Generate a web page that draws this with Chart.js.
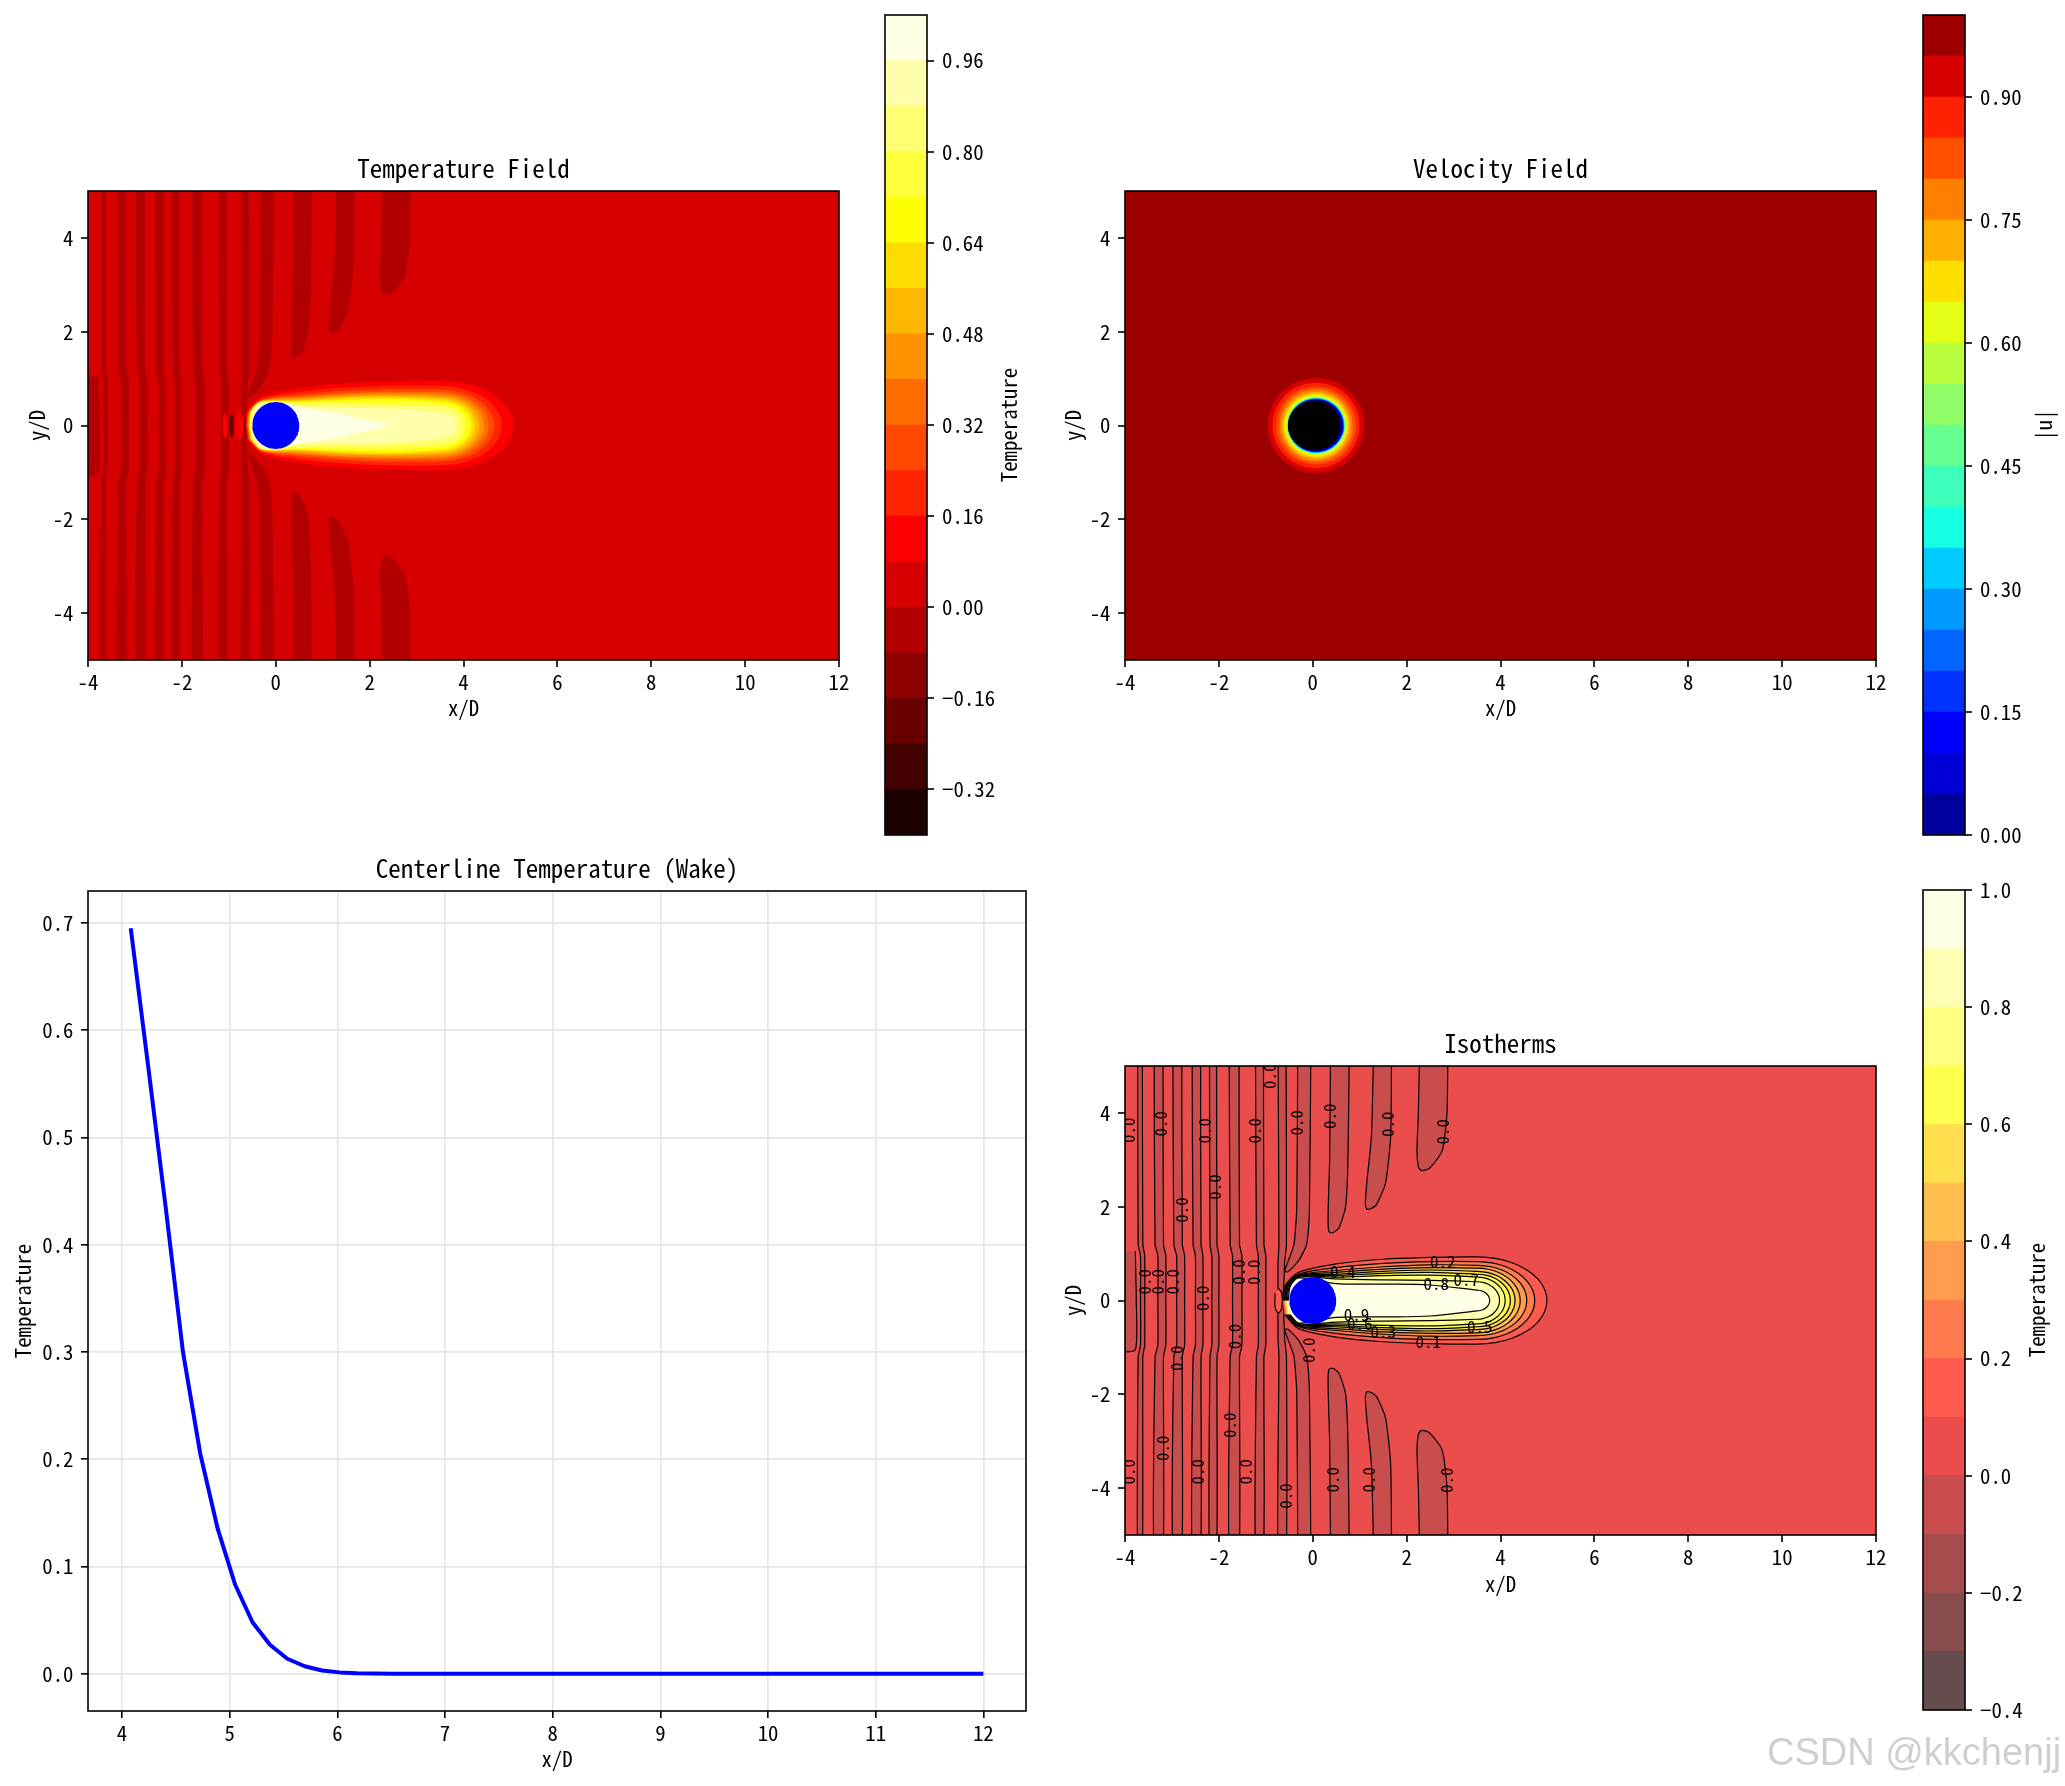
<!DOCTYPE html>
<html><head><meta charset="utf-8">
<script src="https://cdn.jsdelivr.net/npm/chart.js@4.4.1/dist/chart.umd.min.js"></script>
<style>
html,body{margin:0;padding:0;background:#fff}
body{width:2065px;height:1786px;position:relative;overflow:hidden}
canvas{position:absolute}
#wm{position:absolute;left:1767px;top:1733px;font:38px "Liberation Sans",Arial,sans-serif;color:#cfcfcf;white-space:nowrap;line-height:38px}
</style></head><body>
<canvas id="cT"></canvas><canvas id="cV"></canvas><canvas id="cL"></canvas><canvas id="cI"></canvas>
<canvas id="bT"></canvas><canvas id="bV"></canvas><canvas id="bI"></canvas>
<div id="wm">CSDN @kkchenjj</div>
<script>
// ================= DATA =================
const fieldXTicks = [-4,-2,0,2,4,6,8,10,12];
const fieldXLabels = ['-4','-2','0','2','4','6','8','10','12'];
const fieldYTicks = [-4,-2,0,2,4];
const fieldYLabels = ['-4','-2','0','2','4'];

const tempLevels = [-0.40,-0.32,-0.24,-0.16,-0.08,0.00,0.08,0.16,0.24,0.32,0.40,0.48,0.56,0.64,0.72,0.80,0.88,0.96,1.04];
const tempCbTicks = [-0.32,-0.16,0.00,0.16,0.32,0.48,0.64,0.80,0.96];
const tempCbLabels = ['−0.32','−0.16','0.00','0.16','0.32','0.48','0.64','0.80','0.96'];

const velLevels = [0.00,0.05,0.10,0.15,0.20,0.25,0.30,0.35,0.40,0.45,0.50,0.55,0.60,0.65,0.70,0.75,0.80,0.85,0.90,0.95,1.00];
const velCbTicks = [0.00,0.15,0.30,0.45,0.60,0.75,0.90];
const velCbLabels = ['0.00','0.15','0.30','0.45','0.60','0.75','0.90'];

const isoLevels = [-0.4,-0.3,-0.2,-0.1,0.0,0.1,0.2,0.3,0.4,0.5,0.6,0.7,0.8,0.9,1.0];
const isoCbTicks = [-0.4,-0.2,0.0,0.2,0.4,0.6,0.8,1.0];
const isoCbLabels = ['−0.4','−0.2','0.0','0.2','0.4','0.6','0.8','1.0'];

// centreline temperature in the wake
const wakeX = [4.081,4.242,4.404,4.566,4.727,4.889,5.051,5.212,5.374,5.535,5.697,5.859,6.020,6.182,6.343,6.505,6.667,6.828,6.990,7.152,7.313,7.475,7.636,7.798,7.960,8.121,8.283,8.444,8.606,8.768,8.929,9.091,9.253,9.414,9.576,9.737,9.899,10.061,10.222,10.384,10.545,10.707,10.869,11.030,11.192,11.354,11.515,11.677,11.838,12.000];
const wakeT = [0.695,0.567,0.436,0.300,0.205,0.135,0.083,0.048,0.027,0.014,0.007,0.003,0.0013,0.0005,0.0002,0.0001,0,0,0,0,0,0,0,0,0,0,0,0,0,0,0,0,0,0,0,0,0,0,0,0,0,0,0,0,0,0,0,0,0,0];
const wakeXTicks = [4,5,6,7,8,9,10,11,12];
const wakeXLabels = ['4','5','6','7','8','9','10','11','12'];
const wakeYTicks = [0,0.1,0.2,0.3,0.4,0.5,0.6,0.7];
const wakeYLabels = ['0.0','0.1','0.2','0.3','0.4','0.5','0.6','0.7'];

const cylinder = [0, 0, 0.5]; // centre x, centre y, radius

// heated plume contours: [level, front x, half-width at x=-0.3, 0.5, 1.5, 2.5, 3.5, downstream end x]
const plumeTemp = [
 [0.08,-0.65,0.62,0.80,0.90,0.94,0.96,5.07],
 [0.16,-0.63,0.57,0.72,0.81,0.85,0.85,4.82],
 [0.24,-0.61,0.55,0.66,0.74,0.78,0.77,4.66],
 [0.32,-0.60,0.54,0.62,0.69,0.72,0.71,4.54],
 [0.40,-0.59,0.53,0.59,0.66,0.68,0.66,4.44],
 [0.48,-0.58,0.52,0.56,0.62,0.64,0.61,4.34],
 [0.56,-0.57,0.51,0.53,0.59,0.61,0.57,4.25],
 [0.64,-0.56,0.50,0.51,0.55,0.57,0.52,4.17],
 [0.72,-0.55,0.50,0.49,0.51,0.52,0.47,4.08],
 [0.80,-0.54,0.50,0.46,0.45,0.44,0.40,3.98],
 [0.88,-0.52,0.48,0.40,0.38,0.36,0.27,3.85]
];
const plumeTempCore = [[-0.2,0],[0.0,0.47],[0.6,0.38],[1.2,0.28],[1.8,0.15],[2.4,0]];
const plumeIso = [
 [0.1,-0.64,0.60,0.78,0.88,0.92,0.93,4.99],
 [0.2,-0.62,0.56,0.70,0.79,0.83,0.83,4.73],
 [0.3,-0.60,0.54,0.64,0.72,0.76,0.75,4.56],
 [0.4,-0.59,0.53,0.60,0.67,0.70,0.69,4.42],
 [0.5,-0.58,0.52,0.56,0.62,0.65,0.62,4.31],
 [0.6,-0.57,0.51,0.53,0.58,0.60,0.56,4.21],
 [0.7,-0.56,0.50,0.50,0.53,0.54,0.50,4.10],
 [0.8,-0.54,0.50,0.46,0.44,0.43,0.40,3.98],
 [0.9,-0.52,0.48,0.36,0.35,0.33,0.22,3.77]
];

// cold (T<0) stripes upstream; rows [y, x left, x right] from the top edge down to y=0 (mirror-symmetric)
const coldFull = [
 [[5.5,-3.73,-3.63],[1.2,-3.72,-3.62],[0.95,-3.67,-3.58],[0,-3.67,-3.58]],
 [[5.5,-3.38,-3.19],[1.2,-3.36,-3.18],[0.95,-3.30,-3.13],[0,-3.30,-3.13]],
 [[5.5,-2.98,-2.79],[1.2,-2.96,-2.78],[0.95,-2.90,-2.73],[0,-2.90,-2.73]],
 [[5.5,-2.57,-2.39],[1.2,-2.55,-2.38],[0.95,-2.50,-2.34],[0,-2.50,-2.34]],
 [[5.5,-2.20,-2.05],[1.2,-2.19,-2.04],[0.95,-2.15,-2.00],[0,-2.15,-2.00]],
 [[5.5,-1.78,-1.57],[1.2,-1.76,-1.56],[0.95,-1.71,-1.51],[0,-1.71,-1.51]],
 [[5.5,-1.22,-1.05],[1.2,-1.20,-1.04],[0.95,-1.16,-1.00],[0,-1.16,-1.00]],
 [[5.5,-0.74,-0.57],[1.2,-0.72,-0.56],[0.8,-0.74,-0.60],[0,-0.74,-0.62]]
];
const coldBlock = [[1.05,-4.2,-3.78],[0,-4.2,-3.76]];
// stripes that exist only away from the centreline (rows from the top edge downwards)
const coldTop = [
 [[5.5,-0.32,-0.04],[2.0,-0.34,-0.07],[1.2,-0.40,-0.13],[0.85,-0.52,-0.30],[0.62,-0.60,-0.52]],
 [[5.5,0.38,0.78],[3.0,0.36,0.75],[2.0,0.33,0.70],[1.55,0.33,0.56],[1.45,0.36,0.44]],
 [[5.5,1.30,1.68],[3.5,1.25,1.66],[2.5,1.15,1.55],[2.05,1.12,1.36],[1.95,1.15,1.22]],
 [[5.5,2.28,2.88],[4.0,2.25,2.86],[3.2,2.22,2.76],[2.85,2.25,2.52],[2.78,2.30,2.40]]
];
// small marks in front of the cylinder: [band index, x left, x right, half height]
const frontTemp = [[6,-1.12,-1.04,0.28],[2,-0.98,-0.90,0.26],[6,-0.85,-0.70,0.30],[1,-0.66,-0.58,0.25]];
const frontIso = [[5,-0.80,-0.66,0.26]];

// velocity magnitude rings around the cylinder: [level, x radius, y radius]
const velRingCenter = 0.07;
const velRings = [
 [0.95,1.03,1.01],[0.90,0.93,0.91],[0.85,0.85,0.83],[0.80,0.78,0.77],[0.75,0.73,0.72],
 [0.70,0.69,0.675],[0.65,0.655,0.64],[0.60,0.63,0.615],[0.55,0.62,0.60],[0.50,0.615,0.595],
 [0.45,0.61,0.59],[0.40,0.605,0.585],[0.35,0.60,0.58],[0.30,0.595,0.575],[0.25,0.59,0.57],
 [0.20,0.585,0.565],[0.15,0.58,0.56],[0.10,0.575,0.555],[0.05,0.57,0.55]
];
const velCore = [0.03,0.0,0.56,0.53];

// isotherm contour labels [text, x, y]
const isoLabels = [['0.2',2.77,0.83],['0.4',0.64,0.61],['0.8',2.63,0.36],['0.7',3.27,0.44],['0.9',0.93,-0.31],
 ['0.6',1.0,-0.5],['0.3',1.5,-0.67],['0.5',3.56,-0.56],['0.1',2.46,-0.88]];
const isoZeroLabels = [[-3.93,3.63],[-3.25,3.77],[-2.30,3.62],[-1.24,3.62],[-0.92,4.78],[-0.35,3.79],[0.35,3.93],
 [1.59,3.76],[2.77,3.60],[-2.09,2.42],[-2.80,1.93],[-3.58,0.40],[-3.31,0.40],[-2.99,0.40],[-2.35,0.05],
 [-3.93,-3.65],[-3.21,-3.15],[-2.45,-3.65],[-1.77,-2.66],[-1.43,-3.65],[-0.58,-4.17],[0.42,-3.82],[1.18,-3.82],
 [2.85,-3.83],[-1.66,-0.77],[-2.90,-1.23],[-0.10,-1.06],[-1.58,0.61],[-1.26,0.60]];

// ================= helpers =================
function pickFont(){
  const c = document.createElement('canvas').getContext('2d');
  const s = '0.123456789 Temperature Wake';
  const cands = ['Noto Sans Mono CJK SC','Noto Sans Mono CJK JP','DejaVu Sans Mono','Liberation Mono'];
  for (const f of cands){
    c.font = `50px "${f}", monospace`; const w1 = c.measureText(s).width;
    c.font = `50px "${f}", serif`; const w2 = c.measureText(s).width;
    if (Math.abs(w1-w2) < 0.01){
      c.font = `100px "${f}"`; const cw = c.measureText('0000000000').width/10;
      return {family:`"${f}", monospace`, k: 50/cw};
    }
  }
  return {family:'monospace', k:0.83};
}
const FNT = pickFont(); const FF = FNT.family, FK = FNT.k;
const fs = px => px*FK;

function seg(s,x){ for (let i=1;i<s.length;i++){ if (x<=s[i][0]){ const [x0,y0]=s[i-1],[x1,y1]=s[i]; return y0+(y1-y0)*(x-x0)/(x1-x0);} } return s[s.length-1][1]; }
const HOT = {r:[[0,0.0416],[0.365079,1],[1,1]], g:[[0,0],[0.365079,0],[0.746032,1],[1,1]], b:[[0,0],[0.746032,0],[1,1]]};
const JET = {r:[[0,0],[0.35,0],[0.66,1],[0.89,1],[1,0.5]], g:[[0,0],[0.125,0],[0.375,1],[0.64,1],[0.91,0],[1,0]], b:[[0,0.5],[0.11,1],[0.34,1],[0.65,0],[1,0]]};
function cmap(m,x,alpha){ const f=c=>Math.round(255*(alpha*c+(1-alpha))); return `rgb(${f(seg(m.r,x))},${f(seg(m.g,x))},${f(seg(m.b,x))})`; }
function bandColors(levels,m,alpha){ const n=levels.length-1; const out=[]; for(let i=0;i<n;i++) out.push(cmap(m,(i+0.5)/n,alpha)); return out; }
const tempColors = bandColors(tempLevels,HOT,1);
const velColors = bandColors(velLevels,JET,1);
const isoColors = bandColors(isoLevels,HOT,0.7);

function stripeFull(rows){
  const a = rows.map(r=>[r[1],r[0]]);
  const b = rows.slice(0,-1).reverse().map(r=>[r[1],-r[0]]);
  const c = rows.slice(0,-1).map(r=>[r[2],-r[0]]);
  const d = rows.slice().reverse().map(r=>[r[2],r[0]]);
  return a.concat(b,c,d);
}
function stripeHalf(rows,s){ return rows.map(r=>[r[1],s*r[0]]).concat(rows.slice().reverse().map(r=>[r[2],s*r[0]])); }
function plumePoly(row){
  const [lv,f,a,b,c,d,e,xR] = row;
  const top = [[f,0],[f+0.04,0.3],[-0.3,a],[0.5,b],[1.5,c],[2.5,d],[3.5,e]];
  const rx = xR-3.5;
  for (let k=1;k<=6;k++){ const t=k/6*Math.PI/2; top.push([3.5+rx*Math.sin(t), e*Math.cos(t)]); }
  return top.concat(top.slice(1,-1).reverse().map(p=>[p[0],-p[1]]));
}
function corePoly(rows){ return rows.map(p=>[p[0],p[1]]).concat(rows.slice(1,-1).reverse().map(p=>[p[0],-p[1]])); }
function markPoly(m){ const [b,xl,xr,yt]=m; const c=(xl+xr)/2; return [[c,yt],[xr,yt*0.6],[xr,-yt*0.6],[c,-yt],[xl,-yt*0.6],[xl,yt*0.6]]; }
function ellipse(cx,cy,rx,ry){ const p=[]; const n=72; for(let k=0;k<n;k++){ const t=2*Math.PI*k/n; p.push([cx+rx*Math.cos(t), cy+ry*Math.sin(t)]); } return p; }

function poly(pts,color,o){
  o = o || {};
  return {data: pts.map(p=>({x:p[0],y:p[1]})), showLine:true, fill:'shape', backgroundColor:color,
    borderColor: o.line || 'rgba(0,0,0,0)', borderWidth: o.lw || 1, pointRadius:0, pointHoverRadius:0, pointHitRadius:0,
    tension: o.t || 0, capBezierPoints:false, borderJoinStyle:'round'};
}
function ordered(sets){ sets.forEach((s,i)=>{ s.order = sets.length - i; }); return sets; }

function tempField(levels, colors, plume, core, front, withLines){
  const band = L => levels.findIndex(v=>Math.abs(v-L)<1e-9);
  const bg = band(0), cold = bg-1;
  const lo = withLines ? {line:'#000', lw:1.2} : {};
  const sets = [poly([[-5,-6],[13,-6],[13,6],[-5,6]], colors[bg])];
  coldFull.forEach(r=>sets.push(poly(stripeFull(r), colors[cold], Object.assign({t:0.2}, lo))));
  coldTop.forEach(r=>{ sets.push(poly(stripeHalf(r,1), colors[cold], Object.assign({t:0.2}, lo)));
                       sets.push(poly(stripeHalf(r,-1), colors[cold], Object.assign({t:0.2}, lo))); });
  sets.push(poly(stripeFull(coldBlock), colors[cold], Object.assign({t:0.2}, lo)));
  front.forEach(m=>sets.push(poly(markPoly(m), colors[m[0]], Object.assign({t:0.4}, lo))));
  plume.forEach(r=>sets.push(poly(plumePoly(r), colors[band(r[0])], Object.assign({t:0.3}, lo))));
  if (core) sets.push(poly(corePoly(core), colors[colors.length-1], {t:0.3}));
  sets.push(poly(ellipse(cylinder[0],cylinder[1],cylinder[2],cylinder[2]), '#0000ff'));
  return ordered(sets);
}
function velField(){
  const sets = [poly([[-5,-6],[13,-6],[13,6],[-5,6]], velColors[velColors.length-1])];
  velRings.forEach(r=>sets.push(poly(ellipse(velRingCenter,0,r[1],r[2]), velColors[Math.round(r[0]/0.05)-1])));
  sets.push(poly(ellipse(velCore[0],velCore[1],velCore[2],velCore[3]), '#000000'));
  return ordered(sets);
}

function setupCanvas(id,b){ const cv=document.getElementById(id); cv.width=b.w; cv.height=b.h; cv.style.left=b.x+'px'; cv.style.top=b.y+'px'; cv.style.width=b.w+'px'; cv.style.height=b.h+'px'; return cv; }

function linAxis(o){
  const horiz = o.pos==='bottom' || o.pos==='top';
  return {
    type:'linear', position:o.pos, min:o.min, max:o.max,
    afterBuildTicks: s => { s.ticks = o.ticks.map(v=>({value:v})); },
    afterFit: s => { if (horiz) s.height = o.size; else s.width = o.size; },
    ticks:{autoSkip:false, maxRotation:0, minRotation:0, padding:o.pad, color:'#000', font:{size:fs(20.8), family:FF}, callback:(v,i)=>o.labels[i]},
    grid:{display:true, drawOnChartArea:!!o.grid, color:o.grid || 'rgba(0,0,0,0)', lineWidth:o.grid ? 1.67 : 0, drawTicks:true, tickLength:7, tickWidth:1.6, tickColor:'#000'},
    border:{display:false},
    title: o.title ? {display:true, text:o.title, color:'#000', font:{size:fs(20.8), family:FF, lineHeight:1.2}, padding:o.titlePad} : {display:false}
  };
}

function annot(cfg){
  return {
    id:'annot',
    afterDatasetsDraw(chart){
      const {ctx, chartArea:a, scales} = chart;
      if (!cfg.labels && !cfg.zeros) return;
      const x = scales.x, y = scales.y;
      ctx.save();
      ctx.beginPath(); ctx.rect(a.left,a.top,a.right-a.left,a.bottom-a.top); ctx.clip();
      ctx.fillStyle='#000'; ctx.textAlign='center'; ctx.textBaseline='middle';
      ctx.font = `${fs(17)}px ${FF}`;
      (cfg.labels||[]).forEach(l=>ctx.fillText(l[0], x.getPixelForValue(l[1]), y.getPixelForValue(l[2])));
      ctx.font = `${fs(17)}px ${FF}`;
      (cfg.zeros||[]).forEach(z=>{ ctx.save(); ctx.translate(x.getPixelForValue(z[0]), y.getPixelForValue(z[1])); ctx.rotate(-Math.PI/2); ctx.fillText('0.0',0,0); ctx.restore(); });
      ctx.restore();
    },
    afterDraw(chart){
      const {ctx, chartArea:a} = chart;
      ctx.save();
      ctx.strokeStyle='#000'; ctx.lineWidth=1.6; ctx.strokeRect(a.left,a.top,a.right-a.left,a.bottom-a.top);
      ctx.fillStyle='#000'; ctx.textAlign='center'; ctx.textBaseline='middle';
      if (cfg.title){ ctx.font=`${fs(25)}px ${FF}`; ctx.fillText(cfg.title,(a.left+a.right)/2,a.top-22.4); }
      if (cfg.side){ ctx.font=`${fs(20.8)}px ${FF}`; ctx.translate(cfg.side.x,(a.top+a.bottom)/2); ctx.rotate(-Math.PI/2); ctx.fillText(cfg.side.text,0,0); }
      ctx.restore();
    }
  };
}

const LH = 1.2*fs(20.8);
function plotChart(id, box, area, datasets, ax, extra){
  const cv = setupCanvas(id, box);
  return new Chart(cv, {
    type:'scatter',
    data:{datasets},
    options:{
      responsive:false, animation:false, events:[],
      layout:{padding:{left:0, top:area.top-box.y, right:box.x+box.w-area.right, bottom:0}},
      scales:{
        x: linAxis({min:ax.xmin, max:ax.xmax, ticks:ax.xt, labels:ax.xl, pos:'bottom', size:box.y+box.h-area.bottom,
                    title:ax.xtitle, titlePad:{top:0, bottom:box.y+box.h-ax.xTitleY-LH/2}, pad:2.5, grid:ax.grid}),
        y: linAxis({min:ax.ymin, max:ax.ymax, ticks:ax.yt, labels:ax.yl, pos:'left', size:area.left-box.x,
                    title:ax.ytitle, titlePad:{top:ax.yTitleX-box.x-LH/2, bottom:0}, pad:7.5, grid:ax.grid})
      },
      plugins:{legend:{display:false}, tooltip:{enabled:false}}
    },
    plugins:[annot(extra)]
  });
}
function colorbar(id, box, area, levels, colors, ticks, labels, text, textX){
  const cv = setupCanvas(id, box);
  const datasets = colors.map((c,i)=>({data:[[levels[i],levels[i+1]]], backgroundColor:c, borderWidth:0, barPercentage:1, categoryPercentage:1, grouped:false}));
  return new Chart(cv, {
    type:'bar',
    data:{labels:['cb'], datasets},
    options:{
      responsive:false, animation:false, events:[],
      layout:{padding:{left:area.left-box.x, top:area.top-box.y, bottom:box.y+box.h-area.bottom, right:0}},
      scales:{ x:{display:false},
        y: linAxis({min:levels[0], max:levels[levels.length-1], ticks, labels, pos:'right', size:box.x+box.w-area.right, pad:8}) },
      plugins:{legend:{display:false}, tooltip:{enabled:false}}
    },
    plugins:[annot({side:{text, x:textX-box.x}})]
  });
}

const fieldAx = (xTitleY, yTitleX) => ({xmin:-4, xmax:12, ymin:-5, ymax:5, xt:fieldXTicks, xl:fieldXLabels, yt:fieldYTicks, yl:fieldYLabels,
  xtitle:'x/D', ytitle:'y/D', xTitleY, yTitleX});

plotChart('cT', {x:0,y:150,w:870,h:600}, {left:88,top:191,right:839,bottom:660},
  tempField(tempLevels, tempColors, plumeTemp, plumeTempCore, frontTemp, false), fieldAx(708.5, 36.9), {title:'Temperature Field'});
plotChart('cV', {x:1040,y:150,w:866,h:600}, {left:1125,top:191,right:1876,bottom:660},
  velField(), fieldAx(708.5, 1073.4), {title:'Velocity Field'});
plotChart('cI', {x:1040,y:1025,w:866,h:620}, {left:1125,top:1066,right:1876,bottom:1535},
  tempField(isoLevels, isoColors, plumeIso, null, frontIso, true), fieldAx(1584, 1073.4), {title:'Isotherms', labels:isoLabels, zeros:isoZeroLabels});
plotChart('cL', {x:0,y:850,w:1060,h:936}, {left:88,top:891,right:1026,bottom:1711},
  [{data: wakeX.map((x,i)=>({x, y:wakeT[i]})), showLine:true, borderColor:'#0000ff', borderWidth:4, pointRadius:0, fill:false, tension:0, borderJoinStyle:'round'}],
  {xmin:3.684, xmax:12.396, ymin:-0.0347, ymax:0.7297, xt:wakeXTicks, xl:wakeXLabels, yt:wakeYTicks, yl:wakeYLabels,
   xtitle:'x/D', ytitle:'Temperature', xTitleY:1759.5, yTitleX:23.5, grid:'#e6e6e6'}, {title:'Centerline Temperature (Wake)'});

colorbar('bT', {x:860,y:-20,w:200,h:880}, {left:885,top:15,right:927,bottom:835}, tempLevels, tempColors, tempCbTicks, tempCbLabels, 'Temperature', 1009);
colorbar('bV', {x:1900,y:-20,w:165,h:880}, {left:1923,top:15,right:1965,bottom:835}, velLevels, velColors, velCbTicks, velCbLabels, '|u|', 2044);
colorbar('bI', {x:1900,y:860,w:165,h:880}, {left:1923,top:890,right:1965,bottom:1710}, isoLevels, isoColors, isoCbTicks, isoCbLabels, 'Temperature', 2037);
</script></body></html>
